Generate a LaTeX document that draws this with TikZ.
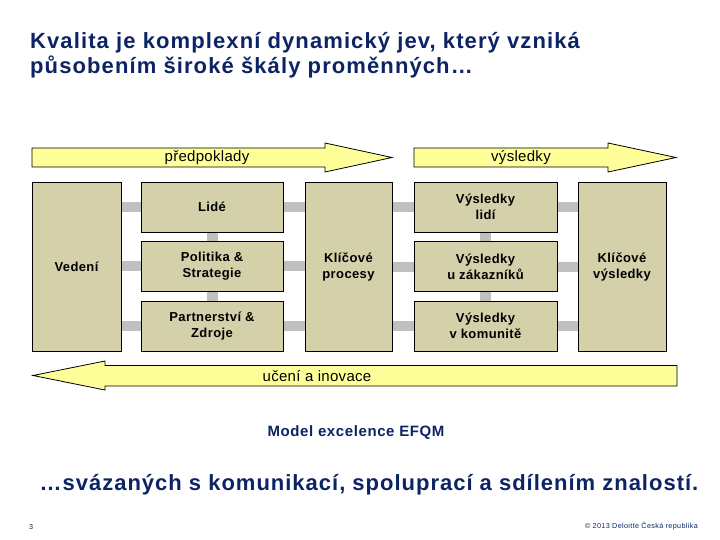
\documentclass[tikz,border=0pt]{standalone}
\usepackage{fontspec}
\setmainfont{Liberation Sans}
\newfontfamily\ttlfont[LetterSpace=5]{Liberation Sans}
\newfontfamily\botfont[LetterSpace=4.5]{Liberation Sans}
\newfontfamily\lblfont[LetterSpace=2]{Liberation Sans}
\newfontfamily\boxfont[LetterSpace=3]{Liberation Sans}
\newfontfamily\capfont[LetterSpace=4]{Liberation Sans}
\newfontfamily\footfont[LetterSpace=5]{Liberation Sans}
\usetikzlibrary{backgrounds}
\definecolor{navy}{RGB}{12,35,100}
\definecolor{boxtan}{RGB}{212,208,170}
\definecolor{pale}{RGB}{255,255,153}
\definecolor{bargray}{RGB}{192,192,192}
\begin{document}
\begin{tikzpicture}[x=1pt,y=-1pt,
  box/.style={draw=black, line width=0.9pt, fill=boxtan, inner sep=0pt, align=center,
    font=\boxfont\bfseries\fontsize{13}{16}\selectfont},
  tall/.style={box, minimum height=169pt},
  cell/.style={box, minimum height=50pt},
  hbar/.style={draw=bargray, line width=10pt},
  vbar/.style={draw=bargray, line width=11pt},
  arr/.style={draw=black, line width=0.8pt, fill=pale},
  arrlbl/.style={font=\lblfont\fontsize{15}{17}\selectfont, inner sep=0pt},
  ttl/.style={font=\ttlfont\bfseries\fontsize{22}{25}\selectfont, text=navy, inner sep=0pt, anchor=base west},
  foot/.style={font=\footfont\fontsize{7.2}{9}\selectfont, text=navy, inner sep=0pt}
]
\useasboundingbox (0,0) rectangle (720,540);

% title
\node[ttl] (t1) at (30,49) {Kvalita je komplexní dynamický jev, který vzniká};
\node[ttl] (t2) at (30,74) {působením široké škály proměnných…};

% top arrows
\draw[arr] (32,148) -- (325,148) -- (325,143) -- (392,157.5) -- (325,172) -- (325,167) -- (32,167) -- cycle;
\node[arrlbl] (pred) at (207,157.5) {předpoklady};
\draw[arr] (414,148) -- (608,148) -- (608,143) -- (676,157.5) -- (608,172) -- (608,167) -- (414,167) -- cycle;
\node[arrlbl] (vys) at (521,157.5) {výsledky};

% boxes
\node[tall, minimum width=89pt] (vedeni) at (76.5,266.5) {Vedení};
\node[cell, minimum width=142pt] (lide) at (212,207) {Lidé};
\node[cell, minimum width=142pt] (polit) at (212,266) {Politika \&\\Strategie};
\node[cell, minimum width=142pt] (partn) at (212,326) {Partnerství \&\\Zdroje};
\node[tall, minimum width=87pt] (kp) at (348.5,266.5) {Klíčové\\procesy};
\node[cell, minimum width=143pt] (vl) at (485.5,207) {Výsledky\\lidí};
\node[cell, minimum width=143pt] (vz) at (485.5,266.5) {Výsledky\\u zákazníků};
\node[cell, minimum width=143pt] (vk) at (485.5,326) {Výsledky\\v komunitě};
\node[tall, minimum width=88pt] (kv) at (622,266.5) {Klíčové\\výsledky};

% connectors
\begin{scope}[on background layer]
\foreach \r in {lide,polit,partn}{
  \draw[hbar] (vedeni.east |- \r.west) -- (\r.west);
  \draw[hbar] (\r.east) -- (kp.west |- \r.east);
}
\foreach \r in {vl,vz,vk}{
  \draw[hbar] (kp.east |- \r.west) -- (\r.west);
  \draw[hbar] (\r.east) -- (kv.west |- \r.east);
}
\draw[vbar] (lide.south) -- (polit.north);
\draw[vbar] (polit.south) -- (partn.north);
\draw[vbar] (vl.south) -- (vz.north);
\draw[vbar] (vz.south) -- (vk.north);
\end{scope}

% bottom arrow
\draw[arr] (33,375.5) -- (105,361) -- (105,365.5) -- (677,365.5) -- (677,386) -- (105,386) -- (105,390) -- cycle;
\node[arrlbl] (uceni) at (317,376) {učení a inovace};

% captions
\node[font=\capfont\bfseries\fontsize{15}{17}\selectfont, text=navy, inner sep=0pt] (model) at (356,433) {Model excelence EFQM};
\node[font=\botfont\bfseries\fontsize{22}{25}\selectfont, text=navy, inner sep=0pt, anchor=base] (bottom) at (369,490) {…svázaných s komunikací, spoluprací a sdílením znalostí.};

% footer
\node[foot, anchor=west] (pg) at (29,527) {3};
\node[foot, anchor=east] (copy) at (698,526) {© 2013 Deloitte Česká republika};
\end{tikzpicture}
\end{document}
